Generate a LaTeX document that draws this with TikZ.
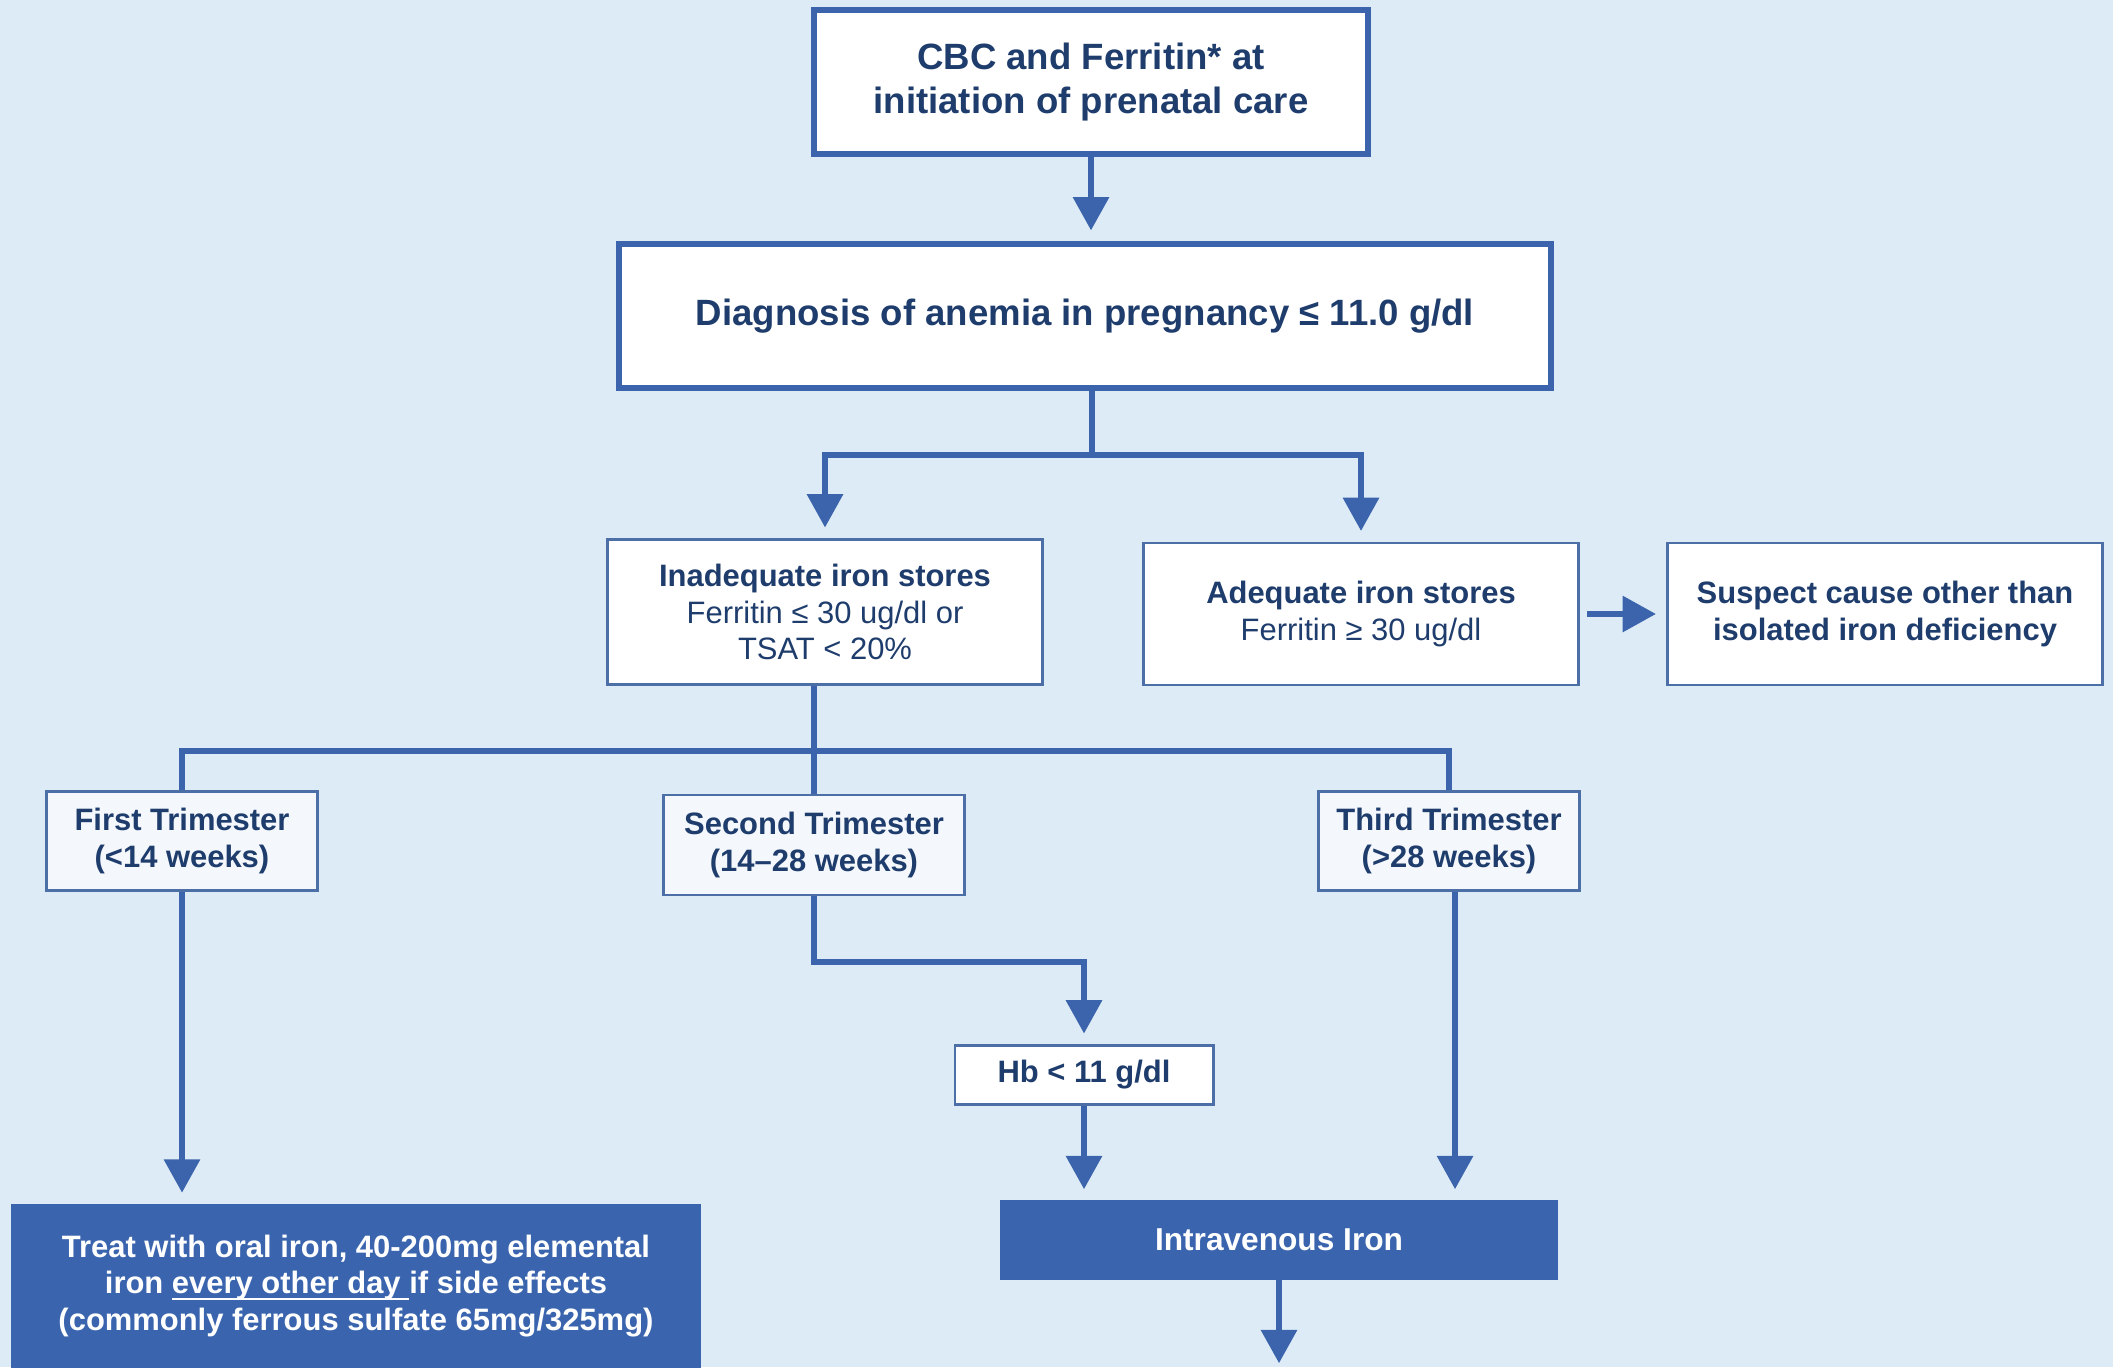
\documentclass[tikz,border=0pt]{standalone}
\usepackage{fontspec}
\setmainfont{Liberation Sans}
\usetikzlibrary{arrows.meta}

\definecolor{bgblue}{HTML}{DDEBF7}
\definecolor{lineblue}{HTML}{3B64AC}
\definecolor{navy}{HTML}{1E3C6C}
\definecolor{boxedge}{HTML}{4C6FA8}
\definecolor{fillblue}{HTML}{3A65AE}
\definecolor{paleblue}{HTML}{F4F8FC}

\begin{document}
\begin{tikzpicture}[x=0.01cm, y=-0.01cm, >={Triangle[width=10pt, length=9.5pt]},
  font=\fontsize{8.8pt}{10.4pt}\selectfont,
  mainbox/.style={draw=lineblue, line width=1.7pt, fill=white, text=navy, align=center, inner sep=0pt,
    font=\bfseries\fontsize{10.4pt}{12.7pt}\selectfont},
  infobox/.style={draw=boxedge, line width=0.8pt, fill=white, text=navy, align=center, inner sep=0pt},
  stagebox/.style={infobox, fill=paleblue, font=\bfseries\fontsize{8.8pt}{10.4pt}\selectfont},
  treatbox/.style={fill=fillblue, text=white, align=center, inner sep=0pt,
    font=\bfseries\fontsize{8.8pt}{10.4pt}\selectfont},
  link/.style={draw=lineblue, line width=1.7pt},
  flow/.style={link, ->, shorten >=3pt}]

% ==================== PAGE ====================
\fill[bgblue] (0,0) rectangle (2113,1367);
\useasboundingbox (0,0) rectangle (2113,1367);
\clip (0,0) rectangle (2113,1367);

% ==================== SCREENING ====================
\node[mainbox, minimum width=5.53cm, minimum height=1.43cm] (cbc) at (1091, 82)
  {CBC and Ferritin* at\\initiation of prenatal care};
\node[mainbox, minimum width=9.31cm, minimum height=1.44cm] (diag) at (1085, 316)
  {Diagnosis of anemia in pregnancy ≤ 11.0 g/dl};

\draw[flow] (cbc) -- (cbc |- diag.north);

% ==================== IRON STORES ====================
\node[infobox, minimum width=4.34cm, minimum height=1.45cm] (inad) at (825, 612)
  {\textbf{Inadequate iron stores}\\Ferritin ≤ 30 ug/dl or\\TSAT < 20\%};
\node[infobox, minimum width=4.35cm, minimum height=1.42cm] (adeq) at (1361, 614)
  {\textbf{Adequate iron stores}\\Ferritin ≥ 30 ug/dl};
\node[infobox, minimum width=4.34cm, minimum height=1.42cm, font=\bfseries\fontsize{8.8pt}{10.4pt}\selectfont]
  (susp) at (1885, 614) {Suspect cause other than\\isolated iron deficiency};

% Split below the diagnosis
\coordinate (split1) at (1092, 455);
\draw[link] (split1 |- diag.south) -- (split1);
\draw[flow] (split1) -| (inad.north);
\draw[flow] (split1) -| (adeq.north);
\draw[flow, shorten <=2pt] (adeq.east) -- (susp.west);

% ==================== TRIMESTERS ====================
\node[stagebox, minimum width=2.71cm, minimum height=0.99cm] (first) at (182, 841)
  {First Trimester\\(<14 weeks)};
\node[stagebox, minimum width=3.01cm, minimum height=1.00cm] (second) at (814, 845)
  {Second Trimester\\(14–28 weeks)};
\node[stagebox, minimum width=2.61cm, minimum height=0.99cm] (third) at (1449, 841)
  {Third Trimester\\(>28 weeks)};

% Split below the inadequate stores
\coordinate (split2) at (814, 751);
\draw[link] (second.north |- inad.south) -- (second.north);
\draw[link] (first.north) |- (split2) -| (third.north);

% ==================== TREATMENT ====================
\node[infobox, minimum width=2.58cm, minimum height=0.59cm, font=\bfseries\fontsize{8.8pt}{10.4pt}\selectfont]
  (hb) at (1084, 1075) {Hb < 11 g/dl};
\node[treatbox, minimum width=5.58cm, minimum height=0.79cm, font=\bfseries\fontsize{9pt}{11pt}\selectfont]
  (iv) at (1279, 1240) {Intravenous Iron};
\node[treatbox, minimum width=6.89cm, minimum height=1.64cm] (treat) at (356, 1286)
  {Treat with oral iron, 40-200mg elemental\\iron \underline{\smash{every other day }}if side effects\\(commonly ferrous sulfate 65mg/325mg)};

% First trimester -> oral iron
\draw[flow] (first.south) -- (first.south |- treat.north);

% Second trimester -> Hb check -> IV iron
\draw[flow] (second.south) -- ++(0, 66) -| (hb.north);
\draw[flow] (hb.south) -- (hb.south |- iv.north);

% Third trimester -> IV iron
\draw[flow] ([xshift=0.06cm]third.south) -- ([xshift=0.06cm]third.south |- iv.north);

% IV iron -> next step
\draw[flow, shorten >=0pt] (iv.south) -- ++(0, 83) coordinate (ivnext);

\end{tikzpicture}
\end{document}
